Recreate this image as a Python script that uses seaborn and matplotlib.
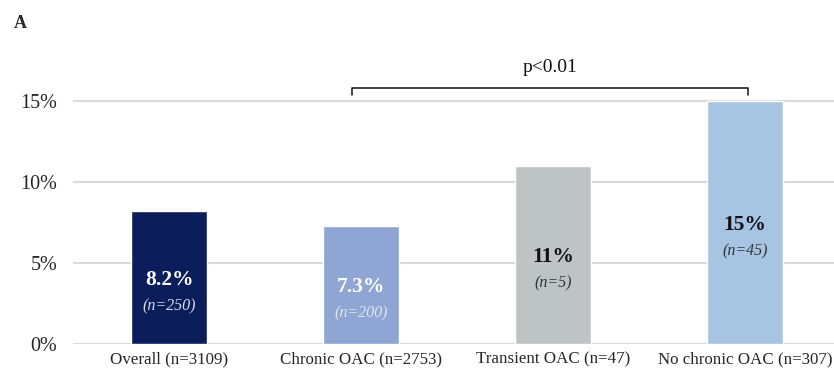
import matplotlib
matplotlib.use("Agg")
import matplotlib.pyplot as plt
import seaborn as sns
import pandas as pd

categories = ["Overall (n=3109)", "Chronic OAC (n=2753)", "Transient OAC (n=47)", "No chronic OAC (n=307)"]
values = [8.2, 7.3, 11.0, 15.0]
pct_labels = ["8.2%", "7.3%", "11%", "15%"]
n_labels = ["(n=250)", "(n=200)", "(n=5)", "(n=45)"]
colors = ["#0c1d5c", "#8fa6d5", "#bec4c4", "#a7c4e3"]
pct_colors = ["#ffffff", "#ffffff", "#111111", "#111111"]
n_colors = ["#d8dce8", "#dfe4f0", "#333333", "#333333"]
yticks = [0, 5, 10, 15]
ytick_labels = ["0%", "5%", "10%", "15%"]

sns.set_theme(style="white")
plt.rcParams["font.family"] = ["Liberation Serif", "DejaVu Serif"]

df = pd.DataFrame({"cat": categories, "val": values})

fig = plt.figure(figsize=(8.34, 3.72), dpi=100)
ax = fig.add_axes([73 / 834, 28 / 372, 1 - 73 / 834, 344 / 372])

sns.barplot(data=df, x="cat", y="val", hue="cat", palette=colors, width=0.40,
            saturation=1, legend=False, ax=ax, zorder=3)

ax.set_ylim(0, 344 / 16.17)
ax.set_xlim(-0.5, 3.5 - 7 / 192)
ax.set_yticks(yticks)
ax.set_yticklabels(ytick_labels, fontsize=14.5)
ax.tick_params(axis="y", length=0, pad=11.5)
ax.tick_params(axis="x", length=0, pad=5, labelsize=12.2)
ax.set_xlabel("")
ax.set_ylabel("")
for s in ax.spines.values():
    s.set_visible(False)
ax.grid(False)
for t in yticks:
    ax.axhline(t, color="#d9d9d9", lw=1.5, zorder=1)

for i, p in enumerate(ax.patches[:len(values)]):
    cx = p.get_x() + p.get_width() / 2
    h = p.get_height()
    ax.annotate(pct_labels[i], (cx, h / 2), xytext=(0, -1.5), textcoords="offset points",
                ha="center", va="center", fontsize=15.5, fontweight="bold",
                color=pct_colors[i], zorder=5)
    ax.annotate(n_labels[i], (cx, h / 2), xytext=(0, -20.5), textcoords="offset points",
                ha="center", va="center", fontsize=11.5, fontstyle="italic",
                color=n_colors[i], zorder=5)

# significance bracket
yb = (344 - 88) / 16.17
yt = (344 - 95) / 16.17
x0, x1 = 1 - 0.045, 3 + 0.015
ax.plot([x0, x0, x1, x1], [yt, yb, yb, yt], color="#111111", lw=1.1, clip_on=False, zorder=4)
ax.text((x0 + x1) / 2, (344 - 68) / 16.17, "p<0.01", ha="center", va="center", fontsize=14,
        color="#111111")

fig.text(14 / 834, 1 - 24 / 372, "A", ha="left", va="center", fontsize=13, fontweight="bold")

fig.savefig("out.png", dpi=100)
